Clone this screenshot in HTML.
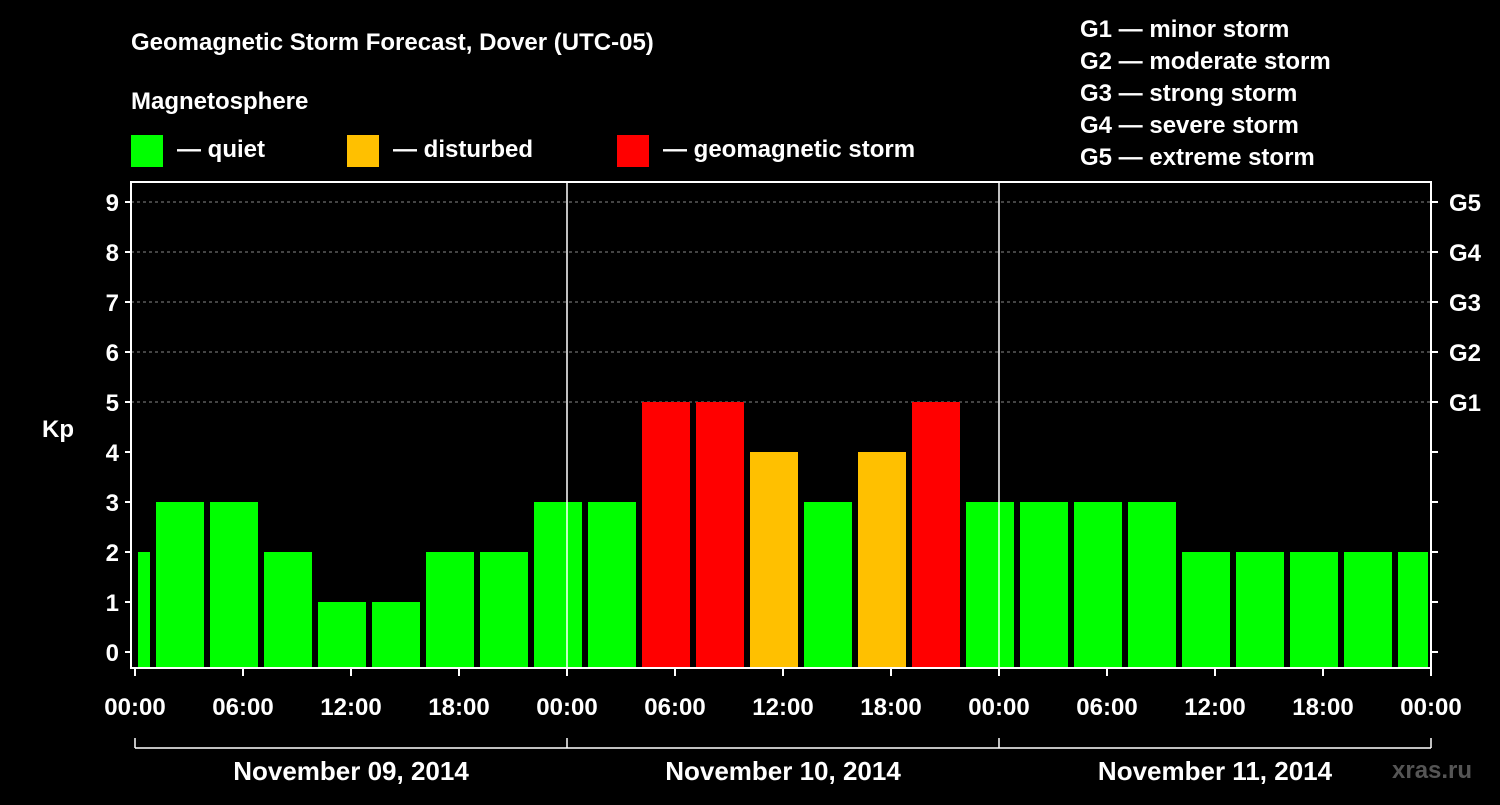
<!DOCTYPE html>
<html><head><meta charset="utf-8"><style>
body{margin:0;background:#000;width:1500px;height:800px;overflow:hidden}
svg text{font-family:"Liberation Sans",Arial,sans-serif;font-weight:bold;fill:#fff}
</style></head><body>
<svg id="c" width="1500" height="800">
<text x="131" y="50" font-size="24">Geomagnetic Storm Forecast, Dover (UTC-05)</text>
<text x="131" y="109" font-size="24">Magnetosphere</text>
<g>
<rect x="131" y="135" width="32" height="32" fill="#00ff00"/>
<text x="177" y="157" font-size="24">— quiet</text>
<rect x="347" y="135" width="32" height="32" fill="#ffc000"/>
<text x="393" y="157" font-size="24">— disturbed</text>
<rect x="617" y="135" width="32" height="32" fill="#ff0000"/>
<text x="663" y="157" font-size="24">— geomagnetic storm</text>
</g>
<g font-size="24">
<text x="1080" y="37">G1 — minor storm</text>
<text x="1080" y="69">G2 — moderate storm</text>
<text x="1080" y="101">G3 — strong storm</text>
<text x="1080" y="133">G4 — severe storm</text>
<text x="1080" y="165">G5 — extreme storm</text>
</g>
<text x="42" y="437" font-size="24">Kp</text>
<text x="1392" y="778" font-size="24" fill="#555" style="fill:#555">xras.ru</text>
<g id="plot"></g>
</svg>
<script>
const days=["November 09, 2014","November 10, 2014","November 11, 2014"];
const kpValues=[2,3,3,2,1,1,2,2,3,3,5,5,4,3,4,5,3,3,3,3,2,2,2,2,2];
const xTickLabels=["00:00","06:00","12:00","18:00"];
const gLabels=["G1","G2","G3","G4","G5"];
const NS="http://www.w3.org/2000/svg";
const g=document.getElementById('plot');
const L=131,R=1431,T=182,B=668,X0=135,PXH=18;
const xs=h=>X0+h*PXH;
const ys=v=>652-50*v;
function mk(tag,a){const e=document.createElementNS(NS,tag);for(const k in a)e.setAttribute(k,a[k]);g.appendChild(e);return e;}
const color=v=>v>=5?"#ff0000":v>=4?"#ffc000":"#00ff00";
// grid
for(let v=5;v<=9;v++){const l=mk('line',{x1:L,x2:R,y1:ys(v),y2:ys(v),stroke:'#888','stroke-dasharray':'3,3'});

}
// bars: intervals start at hour -2 (22:00 previous day), 3h each
kpValues.forEach((v,i)=>{let h0=-2+3*i,h1=h0+3;h0=Math.max(h0,0);h1=Math.min(h1,72);
const x0=xs(h0)+3,x1=xs(h1)-3;
const r=mk('rect',{x:x0,y:ys(v),width:x1-x0,height:B-ys(v),fill:color(v)});

});
// day separators
for(let d=1;d<days.length;d++){const l=mk('line',{x1:xs(24*d),x2:xs(24*d),y1:T,y2:B,stroke:'#fff','stroke-width':1.5});

}
const fr=mk('rect',{x:L,y:T,width:R-L,height:B-T,fill:'none',stroke:'#fff','stroke-width':2});


// y ticks
for(let v=0;v<=9;v++){mk('line',{x1:L-6,x2:L,y1:ys(v),y2:ys(v),stroke:'#fff','stroke-width':2});
mk('line',{x1:R,x2:R+7,y1:ys(v),y2:ys(v),stroke:'#fff','stroke-width':2});
const t=mk('text',{x:L-12,y:ys(v)+9,'font-size':24,'text-anchor':'end'});t.textContent=v;

}
gLabels.forEach((s,i)=>{const t=mk('text',{x:1449,y:ys(5+i)+9,'font-size':24});t.textContent=s;

});
// x ticks
for(let h=0;h<=72;h+=6){mk('line',{x1:xs(h),x2:xs(h),y1:B,y2:B+8,stroke:'#fff','stroke-width':2});
const t=mk('text',{x:xs(h),y:715,'font-size':24,'text-anchor':'middle'});t.textContent=xTickLabels[(h/6)%4];

}
// day bracket
mk('line',{x1:xs(0),x2:xs(72),y1:748,y2:748,stroke:'#fff','stroke-width':1.5});
for(let d=0;d<=days.length;d++)mk('line',{x1:xs(24*d),x2:xs(24*d),y1:738,y2:748,stroke:'#fff','stroke-width':1.5});
days.forEach((s,d)=>{const t=mk('text',{x:xs(24*d+12),y:780,'font-size':26,'text-anchor':'middle'});t.textContent=s;

});
</script>
</body></html>
